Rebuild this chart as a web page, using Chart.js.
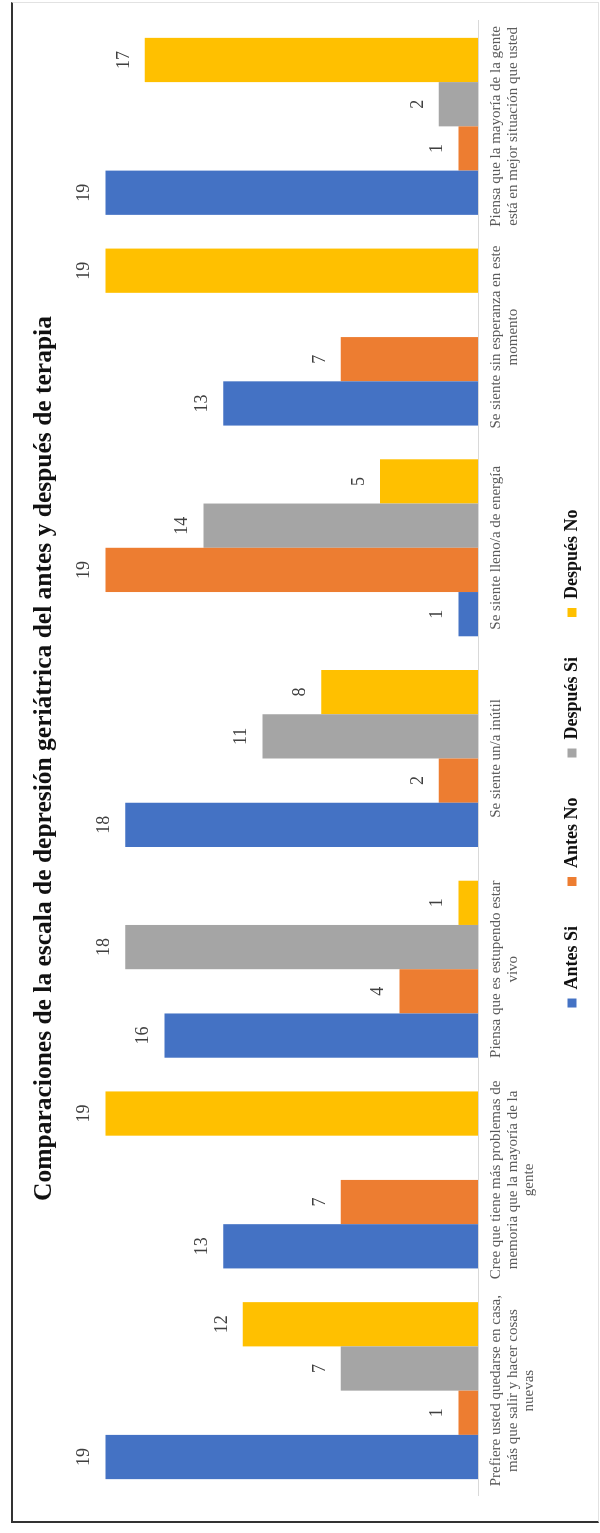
<!DOCTYPE html>
<html>
<head>
<meta charset="utf-8">
<script src="https://cdn.jsdelivr.net/npm/chart.js@4.4.1/dist/chart.umd.min.js"></script>
<style>
  html, body { margin: 0; padding: 0; background: #fff; overflow: hidden; }
  body { width: 600px; height: 1533px; position: relative; }
  #rot { position: absolute; left: 0; top: 0; width: 1533px; height: 600px;
         transform-origin: 0 0; transform: translate(0px, 1533px) rotate(-90deg); }
  #frame { position: absolute; left: 11px; top: 2px; width: 585px; height: 1518px;
           border-left: 2px solid #333; border-bottom: 2px solid #333;
           border-top: 1px solid #e2e2e2; border-right: 1px solid #e2e2e2; }
</style>
</head>
<body>
<div id="frame"></div>
<div id="rot"><canvas id="c" width="1533" height="600"></canvas></div>
<script>
const categories = [
  ["Prefiere usted quedarse en casa,", "más que salir y hacer cosas", "nuevas"],
  ["Cree que tiene más problemas de", "memoria que la mayoría de la", "gente"],
  ["Piensa que es estupendo estar", "vivo"],
  ["Se siente un/a inútil"],
  ["Se siente lleno/a de energía"],
  ["Se siente sin esperanza en este", "momento"],
  ["Piensa que la mayoría de la gente", "está en mejor situación que usted"]
];
const seriesNames = ["Antes Si", "Antes No", "Después Si", "Después No"];
const antesSi    = [19, 13, 16, 18, 1, 13, 19];
const antesNo    = [1, 7, 4, 2, 19, 7, 1];
const despuesSi  = [7, null, 18, 11, 14, null, 2];
const despuesNo  = [12, 19, 1, 8, 5, 19, 17];
const titleText = "Comparaciones de la escala de depresión geriátrica del antes y después de terapia";

const colors = ["#4472C4", "#ED7D31", "#A5A5A5", "#FFC000"];
const serif = "'Liberation Serif', 'Times New Roman', serif";

const valueLabels = {
  id: 'valueLabels',
  afterDatasetsDraw(chart) {
    const ctx = chart.ctx;
    ctx.save();
    ctx.font = "18px " + serif;
    ctx.fillStyle = "#404040";
    ctx.textAlign = "center";
    ctx.textBaseline = "middle";
    chart.data.datasets.forEach((ds, di) => {
      const meta = chart.getDatasetMeta(di);
      meta.data.forEach((bar, i) => {
        const v = ds.data[i];
        if (v === null || v === undefined) return;
        ctx.fillText(String(v), bar.x, bar.y - 21);
      });
    });
    ctx.restore();
  }
};

new Chart(document.getElementById('c'), {
  type: 'bar',
  data: {
    labels: categories,
    datasets: [antesSi, antesNo, despuesSi, despuesNo].map((d, i) => ({
      label: seriesNames[i],
      data: d,
      backgroundColor: colors[i],
      borderWidth: 0,
      categoryPercentage: 0.84,
      barPercentage: 1.0
    }))
  },
  options: {
    responsive: false,
    animation: false,
    devicePixelRatio: 1,
    layout: { padding: { left: 37, right: 21, top: 0, bottom: 9 } },
    scales: {
      x: {
        grid: { display: false, drawTicks: false },
        border: { display: true, color: '#D9D9D9', width: 1 },
        ticks: {
          autoSkip: false, maxRotation: 0, minRotation: 0, padding: 10,
          color: '#595959',
          font: { family: serif, size: 15, lineHeight: 1.1 }
        },
        afterFit(s) {
          s.height = 45;
          s._computeLabelArea = () => undefined; // let 3-line labels overflow into the legend gap
        }
      },
      y: { display: false, min: 0, max: 20 }
    },
    plugins: {
      title: {
        display: true, text: titleText, color: '#111',
        font: { family: serif, size: 25.5, weight: 'bold', lineHeight: 1.2 },
        padding: { top: 28.7, bottom: 26.7 }
      },
      legend: {
        position: 'bottom',
        labels: {
          boxWidth: 9, boxHeight: 9, padding: 40, color: '#111',
          font: { family: serif, size: 18, weight: 'bold' }
        }
      },
      tooltip: { enabled: false }
    }
  },
  plugins: [valueLabels]
});
</script>
</body>
</html>
